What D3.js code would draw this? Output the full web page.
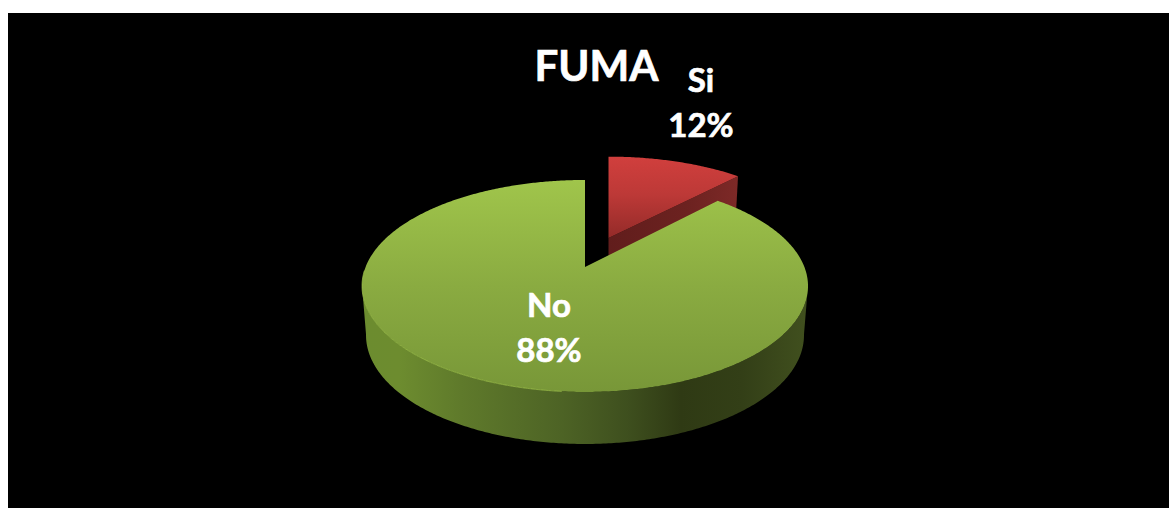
<!DOCTYPE html>
<html><head><meta charset="utf-8">
<script src="https://cdnjs.cloudflare.com/ajax/libs/d3/7.8.5/d3.min.js"></script>
<style>html,body{margin:0;padding:0;background:#fff;overflow:hidden}svg{display:block}text{font-family:Lato,"Open Sans",sans-serif;font-weight:700;fill:#fff;stroke:#fff;stroke-width:.7px}</style>
</head><body><svg id="c" width="1169" height="508"></svg>
<script>
const categories = ["Si", "No"];
const values = [12, 88];
const title = "FUMA";

const svg = d3.select("#c");
svg.append("rect").attr("x",8).attr("y",13).attr("width",1161).attr("height",495).attr("fill","#000");

const defs = svg.append("defs");
function grad(id, x1,y1,x2,y2, stops){
  const g = defs.append("linearGradient").attr("id",id).attr("gradientUnits","userSpaceOnUse")
    .attr("x1",x1).attr("y1",y1).attr("x2",x2).attr("y2",y2);
  stops.forEach(s=>g.append("stop").attr("offset",s[0]).attr("stop-color",s[1]));
}
grad("gTop",0,180,0,392,[[0,"#a0c54b"],[0.5,"#8aab41"],[1,"#789738"]]);
grad("rTop",0,157,0,240,[[0,"#d03f3d"],[0.45,"#bd3937"],[1,"#922a28"]]);
grad("gSide",364,0,804,0,[[0,"#6c8c2f"],[0.08,"#6d8c2f"],[0.22,"#5f7a2b"],[0.45,"#4d6325"],[0.6,"#3e4f1e"],[0.72,"#2f3a14"],[0.86,"#333f17"],[1,"#404f1e"]]);
grad("rSide",609,0,738,0,[[0,"#611d1c"],[0.6,"#6c2220"],[1,"#7d2927"]]);

// perspective projection of the pie plane onto the page
const k = 0.179;
function project(o, theta, r, z){
  const u = r*Math.sin(theta), v = r*Math.cos(theta), w = 1 + k*v;
  const near = (1 - v)/2;
  return [
    o.cx + o.sx*219.4*(u/w)*(1 - 0.018*z),
    o.cy - o.sy*102.6*(v/w) + z*o.sy*(45 + 7*near)
  ];
}
const line = d3.line();
const pieGen = d3.pie().sort(null).value(d=>d);
const arcs = pieGen(values);
const arcPts = (o,a0,a1,z)=>{
  const n = Math.max(2,Math.ceil((a1-a0)/0.01));
  return d3.range(n+1).map(i=>project(o,a0+(a1-a0)*i/n,1,z));
};
const deg = d=>d*Math.PI/180;

const origins = [{cx:608.5,cy:238,sx:0.975,sy:0.935},{cx:585,cy:267,sx:1,sy:1}];

// Si: exploded slice
const sa = arcs[0], so = origins[0];
svg.append("path").attr("fill","url(#rSide)")
  .attr("d", line([project(so,0,0,0),project(so,sa.endAngle,1,0),project(so,sa.endAngle,1,1),project(so,0,0,1)])+"Z");
svg.append("path").attr("fill","url(#rTop)")
  .attr("d", line([project(so,0,0,0),...arcPts(so,sa.startAngle,sa.endAngle,0)])+"Z");

// No: large slice
const na = arcs[1], no = origins[1];
svg.append("path").attr("fill","url(#gSide)")
  .attr("d", line([...arcPts(no,deg(100),deg(260),0),...arcPts(no,deg(100),deg(260),1).reverse()])+"Z");
svg.append("path").attr("fill","url(#gTop)")
  .attr("d", line([project(no,0,0,0),...arcPts(no,na.startAngle,na.endAngle,0)])+"Z");
svg.append("path").attr("fill","none").attr("stroke","#a0c44c").attr("stroke-width",1).attr("stroke-opacity",.7)
  .attr("d", line(arcPts(no,deg(185),deg(268),0)));

// texts
const sz = 33;
const fmt = i => Math.round(values[i]/d3.sum(values)*100)+"%";
svg.append("text").attr("x",596.5).attr("y",81).attr("text-anchor","middle").attr("font-size",42).text(title);
[[701,92,137],[549,317,362]].forEach((p,i)=>{
  svg.append("text").attr("x",p[0]).attr("y",p[1]).attr("text-anchor","middle").attr("font-size",sz).text(categories[i]);
  svg.append("text").attr("x",p[0]).attr("y",p[2]).attr("text-anchor","middle").attr("font-size",sz).text(fmt(i));
});
</script></body></html>
